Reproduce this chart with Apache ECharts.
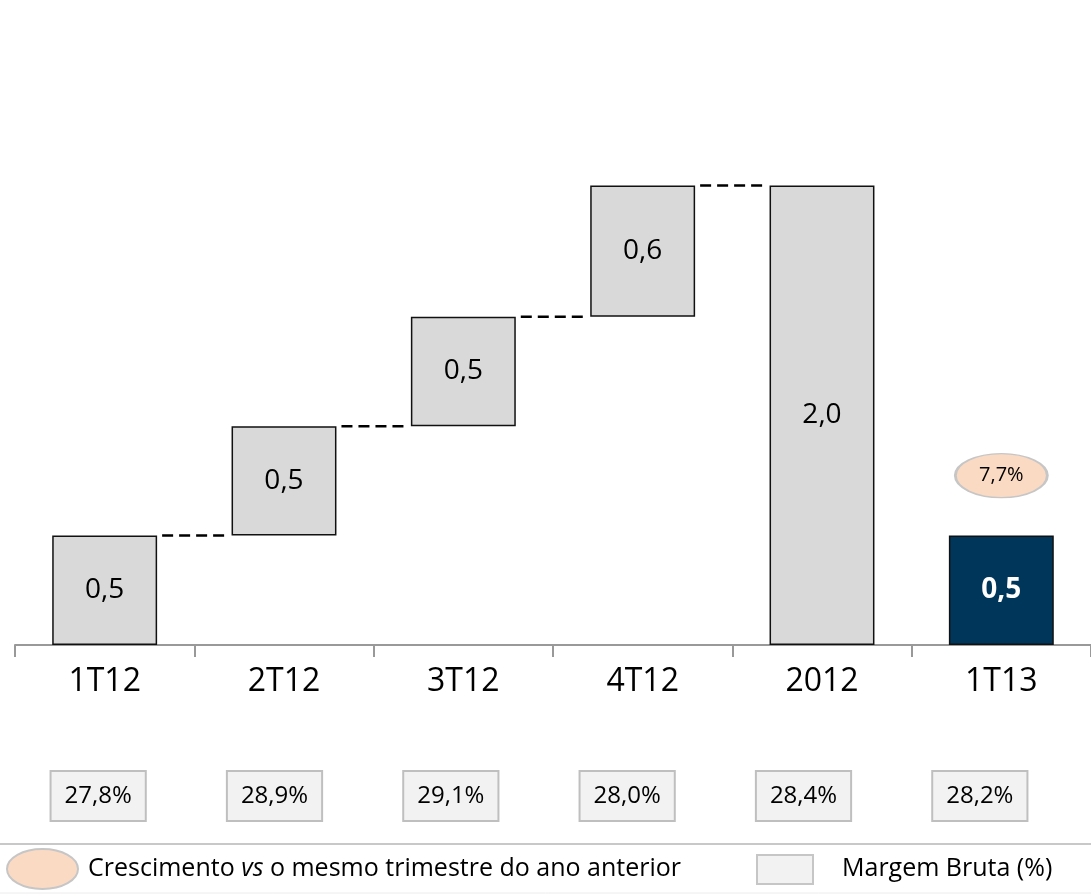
<!DOCTYPE html>
<html>
<head>
<meta charset="utf-8">
<script src="https://cdn.jsdelivr.net/npm/echarts@6/dist/echarts.min.js"></script>
<style>
  html, body { margin: 0; padding: 0; background: #fff; }
  #main { width: 1091px; height: 894px; }
</style>
</head>
<body>
<div id="main"></div>
<script>
// dados do gráfico
const categorias = ['1T12', '2T12', '3T12', '4T12', '2012', '1T13'];
const valores = [0.5, 0.5, 0.5, 0.6, 2.1, 0.5];
const rotulos = ['0,5', '0,5', '0,5', '0,6', '2,0', '0,5'];
const ehTotal = [false, false, false, false, true, false];
const margens = ['27,8%', '28,9%', '29,1%', '28,0%', '28,4%', '28,2%'];
const crescimento = [null, null, null, null, null, '7,7%'];

const fonte = '"Open Sans", sans-serif';

// base invisivel da cascata (acumulado dos trimestres)
const base = [];
let acum = 0;
valores.forEach((v, i) => {
    if (ehTotal[i] || i === valores.length - 1) {
        base.push(0);
    } else {
        base.push(acum);
        acum += v;
    }
});

// linhas tracejadas entre os degraus
const conectores = [];
for (let i = 0; i < 4; i++) {
    conectores.push([i, base[i] + valores[i]]);
}

const larguraBarra = 0.585;

const chart = echarts.init(document.getElementById('main'));

const option = {
    animation: false,
    backgroundColor: '#fff',
    grid: [
        { left: 15, right: 0, top: 98, bottom: 249 },
        { left: 10, right: 23, top: 700, bottom: 122 }
    ],
    xAxis: [
        {
            type: 'category',
            gridIndex: 0,
            data: categorias,
            axisLine: { lineStyle: { color: '#999999', width: 2 } },
            axisTick: { show: true, length: 12, lineStyle: { color: '#999999', width: 2 } },
            axisLabel: { fontSize: 32, color: '#000', fontFamily: fonte, margin: 21 }
        },
        {
            type: 'category',
            gridIndex: 1,
            data: margens,
            axisLine: { show: false },
            axisTick: { show: false },
            axisLabel: {
                margin: 0,
                fontSize: 24,
                lineHeight: 28,
                color: '#000',
                fontFamily: fonte,
                backgroundColor: '#f2f2f2',
                borderColor: '#bfbfbf',
                borderWidth: 2,
                padding: [10, 13]
            }
        }
    ],
    yAxis: [
        { type: 'value', gridIndex: 0, min: 0, max: 2.5, show: false },
        { type: 'value', gridIndex: 1, show: false }
    ],
    series: [
        {
            type: 'bar',
            stack: 'cascata',
            data: base,
            barWidth: (larguraBarra * 100) + '%',
            itemStyle: { color: 'transparent', borderWidth: 0 },
            silent: true
        },
        {
            type: 'bar',
            stack: 'cascata',
            data: valores.map((v, i) => ({
                value: v,
                itemStyle: { color: i === valores.length - 1 ? '#00365a' : '#d9d9d9' },
                label: i === valores.length - 1 ? { color: '#fff', fontWeight: 'bold' } : {}
            })),
            barWidth: (larguraBarra * 100) + '%',
            itemStyle: { borderColor: '#111', borderWidth: 1.5 },
            label: {
                show: true,
                position: 'inside',
                fontSize: 28,
                color: '#000',
                fontFamily: fonte,
                formatter: p => rotulos[p.dataIndex]
            }
        },
        {
            type: 'custom',
            data: conectores,
            renderItem: (params, api) => {
                const p = api.coord([api.value(0), api.value(1)]);
                const larg = api.size([1, 0])[0];
                const meia = larg * larguraBarra / 2;
                return {
                    type: 'line',
                    shape: { x1: p[0] + meia + 5, y1: p[1], x2: p[0] + larg - meia - 6, y2: p[1] },
                    style: { stroke: '#000', lineWidth: 2.5, lineDash: [11, 6] }
                };
            },
            silent: true,
            z: 5
        },
        {
            type: 'scatter',
            data: crescimento.map((c, i) => c === null ? null : [i, valores[i]]),
            symbol: 'path://M0,50 A50,50 0 1,1 100,50 A50,50 0 1,1 0,50 Z',
            symbolSize: [92, 44],
            symbolOffset: [0, -60],
            itemStyle: { color: '#fbdac4', borderColor: '#c6c6c6', borderWidth: 2, opacity: 1 },
            label: {
                show: true,
                position: 'inside',
                fontSize: 20,
                color: '#000',
                fontFamily: fonte,
                formatter: p => crescimento[p.dataIndex]
            },
            z: 6
        }
    ],
    graphic: [
        {
            type: 'line',
            shape: { x1: 0, y1: 844, x2: 1091, y2: 844 },
            style: { stroke: '#c8c8c8', lineWidth: 2 }
        },
        {
            type: 'line',
            shape: { x1: 0, y1: 893, x2: 1091, y2: 893 },
            style: { stroke: '#ececec', lineWidth: 1 }
        },
        {
            type: 'ellipse',
            shape: { cx: 42.5, cy: 869, rx: 35.5, ry: 20 },
            style: { fill: '#fbdac4', stroke: '#c6c6c6', lineWidth: 2 }
        },
        {
            type: 'text',
            left: 88,
            top: 856,
            style: {
                text: '{a|Crescimento }{i|vs}{a| o mesmo trimestre do ano anterior}',
                rich: {
                    a: { fontSize: 25, fontFamily: fonte, fill: '#000' },
                    i: { fontSize: 25, fontFamily: fonte, fontStyle: 'italic', fill: '#000' }
                }
            }
        },
        {
            type: 'rect',
            shape: { x: 757, y: 855, width: 56, height: 29 },
            style: { fill: '#f2f2f2', stroke: '#c6c6c6', lineWidth: 2 }
        },
        {
            type: 'text',
            left: 842,
            top: 856,
            style: { text: 'Margem Bruta (%)', fontSize: 25, fontFamily: fonte, fill: '#000' }
        }
    ]
};

chart.setOption(option);
</script>
</body>
</html>
